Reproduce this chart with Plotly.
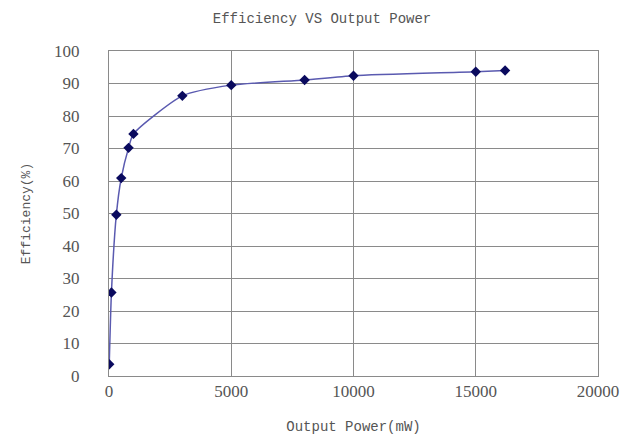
import plotly.graph_objects as go

power_mw = [10, 100, 300, 500, 800, 1000, 3000, 5000, 8000, 10000, 15000, 16200]
efficiency = [3.6, 25.7, 49.6, 60.9, 70.2, 74.5, 86.2, 89.5, 91.1, 92.4, 93.6, 94.0]

x_ticks = [0, 5000, 10000, 15000, 20000]
y_ticks = list(range(0, 101, 10))

fig = go.Figure()
fig.add_trace(go.Scatter(
    x=power_mw, y=efficiency,
    mode="lines+markers",
    line=dict(color="#5a5ab0", width=1.5, shape="spline", smoothing=0.6),
    marker=dict(symbol="diamond", size=8, color="#0a0a5e"),
    showlegend=False,
))

font_mono = "Liberation Mono, DejaVu Sans Mono, monospace"
font_serif = "Liberation Serif, DejaVu Serif, serif"

fig.update_layout(
    width=637, height=441,
    margin=dict(l=101, r=47, t=43, b=73),
    paper_bgcolor="white", plot_bgcolor="white",
    title=dict(text="Efficiency VS Output Power", x=0.493, xanchor="center",
               y=0.977, yanchor="middle",
               font=dict(family=font_mono, size=14, color="#555555")),
    xaxis=dict(range=[0, 20000], tickvals=x_ticks, ticktext=[str(v) for v in x_ticks],
               automargin=False,
               showgrid=True, gridcolor="#8a8a8a", gridwidth=1,
               showline=True, linecolor="#8a8a8a", linewidth=1, mirror=True,
               zeroline=False, ticks="",
               tickfont=dict(family=font_serif, size=17, color="#555555"),
               title=dict(text="Output Power(mW)", standoff=20,
                          font=dict(family=font_mono, size=14, color="#555555"))),
    yaxis=dict(range=[0, 100], tickvals=y_ticks, ticktext=[str(v) for v in y_ticks],
               automargin=False,
               showgrid=True, gridcolor="#8a8a8a", gridwidth=1,
               showline=True, linecolor="#8a8a8a", linewidth=1, mirror=True,
               zeroline=False, ticks="", ticklabelstandoff=25,
               tickfont=dict(family=font_serif, size=17, color="#555555"),
               title=dict(text="Efficiency(%)", standoff=20,
                          font=dict(family=font_mono, size=13, color="#555555"))),
)

fig.write_html("out.html")
